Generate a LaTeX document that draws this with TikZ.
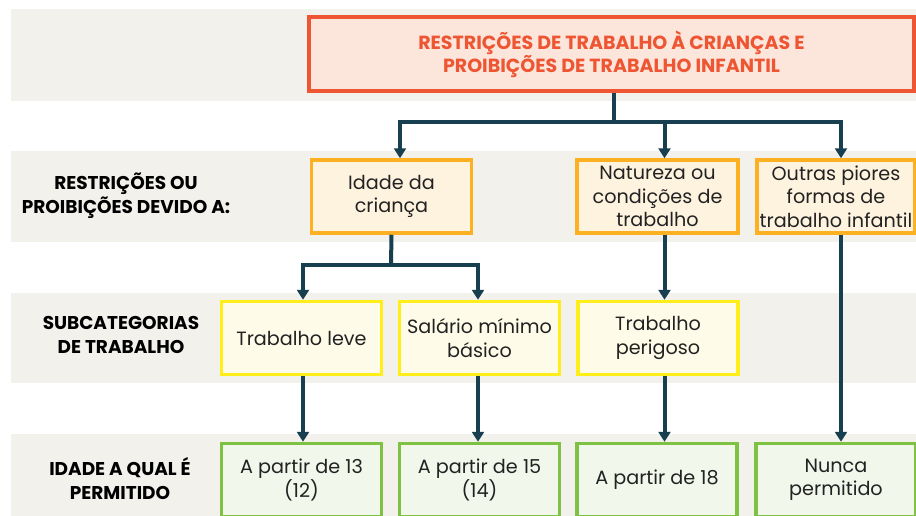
\documentclass[tikz,border=0pt]{standalone}
\usepackage{fontspec}
\setmainfont{Poppins}
\usetikzlibrary{arrows.meta}

\definecolor{bandgray}{HTML}{F2F1EC}
\definecolor{titleline}{HTML}{EE5533}
\definecolor{titlefill}{HTML}{FCE5DA}
\definecolor{ageline}{HTML}{FDB022}
\definecolor{agefill}{HTML}{FEF3DF}
\definecolor{subline}{HTML}{FFEE1A}
\definecolor{subfill}{HTML}{FEFCE8}
\definecolor{permline}{HTML}{7DC243}
\definecolor{permfill}{HTML}{F1F7EA}
\definecolor{linkteal}{HTML}{173F4F}
\definecolor{textdark}{HTML}{222222}

\tikzset{
  box/.style = {draw, line width = 3.5pt, minimum width = 160pt, minimum height = 73pt,
    inner sep = 0pt, align = center, text = textdark,
    font = \fontsize{19.2}{23.5}\selectfont},
  titlebox/.style = {box, draw = titleline, fill = titlefill, text = titleline,
    minimum width = 605pt, minimum height = 74pt,
    font = \bfseries\fontsize{19}{23}\selectfont},
  agebox/.style = {box, draw = ageline, fill = agefill},
  subbox/.style = {box, draw = subline, fill = subfill},
  permbox/.style = {box, draw = permline, fill = permfill},
  rowlabel/.style = {align = center, text = black,
    font = \bfseries\fontsize{18.5}{24}\selectfont},
  link/.style = {draw = linkteal, line width = 4pt},
  arrowlink/.style = {link, -{Triangle[width = 12pt, length = 10pt]}}
}

\begin{document}
\begin{tikzpicture}[x = 1pt, y = -1pt]
  \clip (0, 0) rectangle (916, 515);
  \fill[white] (0, 0) rectangle (916, 515);

  % grey bands
  \foreach \t/\b in {9/101, 151/242, 293/383, 434/520} {
    \fill[bandgray] (11, \t) rectangle (916, \b);
  }

  % row labels
  \node[rowlabel] (lblrestr) at (126, 196) {RESTRIÇÕES OU\\PROIBIÇÕES DEVIDO A:};
  \node[rowlabel] (lblsub) at (121, 335) {SUBCATEGORIAS\\DE TRABALHO};
  \node[rowlabel] (lblidade) at (120, 479) {IDADE A QUAL É\\PERMITIDO};

  % boxes
  \node[titlebox] (title) at (611.5, 54) {RESTRIÇÕES DE TRABALHO À CRIANÇAS E\\PROIBIÇÕES DE TRABALHO INFANTIL};

  \node[agebox] (crianca) at (391.5, 196.5) {Idade da\\criança};
  \node[agebox, minimum width = 161pt] (natureza) at (657.5, 196.5) {Natureza ou\\condições de\\trabalho};
  \node[agebox, minimum width = 158pt] (outras) at (836, 196.5) {Outras piores\\formas de\\trabalho infantil};

  \node[subbox] (leve) at (301.5, 338) {Trabalho leve};
  \node[subbox] (salario) at (479.5, 338) {Salário mínimo\\básico};
  \node[subbox] (perigoso) at (658, 338) {Trabalho\\perigoso};

  \node[permbox] (treze) at (301.5, 480) {A partir de 13\\(12)};
  \node[permbox] (quinze) at (479.5, 480) {A partir de 15\\(14)};
  \node[permbox] (dezoito) at (657, 480) {A partir de 18};
  \node[permbox] (nunca) at (836, 480) {Nunca\\permitido};

  % connectors
  \coordinate (topbus) at (614, 122);
  \draw[link] ([xshift = 2.5pt]title.south) -- (topbus);
  \foreach \n/\s in {crianca/8.5, natureza/7, outras/5} {
    \draw[arrowlink] (topbus) -| ([xshift = \s pt]\n.north);
  }

  \coordinate (midbus) at (391, 265);
  \draw[link] (crianca.south) -- (midbus);
  \draw[arrowlink] (midbus) -| ([xshift = 1.5pt]leve.north);
  \draw[arrowlink] (midbus) -| ([xshift = -1.5pt]salario.north);

  \draw[arrowlink] ([xshift = 7pt]natureza.south) -- ([xshift = 6.5pt]perigoso.north);
  \draw[arrowlink] ([xshift = 1.5pt]leve.south) -- ([xshift = 1.5pt]treze.north);
  \draw[arrowlink] ([xshift = -1.5pt]salario.south) -- ([xshift = -1.5pt]quinze.north);
  \draw[arrowlink] ([xshift = 6.5pt]perigoso.south) -- ([xshift = 7.5pt]dezoito.north);
  \draw[arrowlink] ([xshift = 5pt]outras.south) -- ([xshift = 5pt]nunca.north);
\end{tikzpicture}
\end{document}
